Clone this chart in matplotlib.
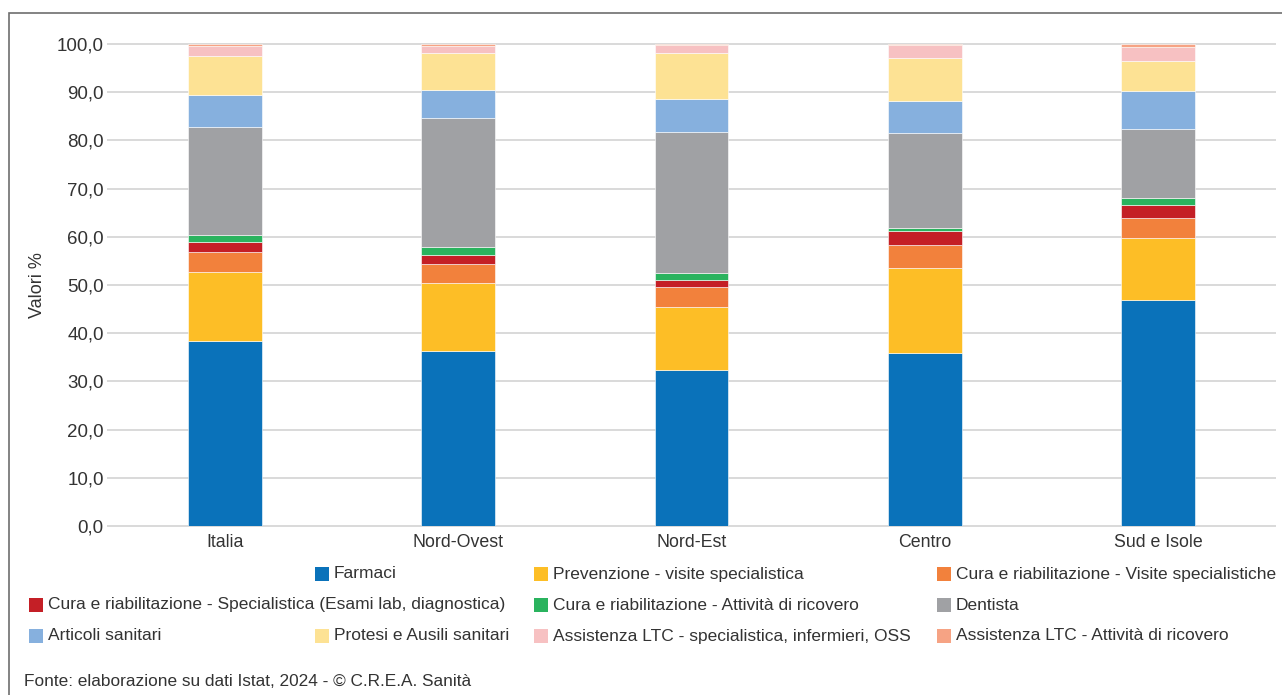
import matplotlib
matplotlib.use("Agg")
import matplotlib.pyplot as plt
from matplotlib.patches import Rectangle
from matplotlib.ticker import FuncFormatter, MultipleLocator

plt.rcParams['font.family'] = ['Liberation Sans', 'DejaVu Sans']

# data (valori %)
regioni = ["Italia", "Nord-Ovest", "Nord-Est", "Centro", "Sud e Isole"]
voci = [
    "Farmaci",
    "Prevenzione - visite specialistica",
    "Cura e riabilitazione - Visite specialistiche",
    "Cura e riabilitazione - Specialistica (Esami lab, diagnostica)",
    "Cura e riabilitazione - Attività di ricovero",
    "Dentista",
    "Articoli sanitari",
    "Protesi e Ausili sanitari",
    "Assistenza LTC - specialistica, infermieri, OSS",
    "Assistenza LTC - Attività di ricovero",
]
farmaci      = [38.4, 36.3, 32.4, 35.9, 46.9]
prevenzione  = [14.2, 14.1, 13.0, 17.6, 12.9]
cura_visite  = [4.2, 4.0, 4.2, 4.9, 4.2]
cura_esami   = [2.1, 1.8, 1.4, 2.7, 2.5]
cura_ricov   = [1.5, 1.7, 1.5, 0.8, 1.6]
dentista     = [22.4, 26.8, 29.3, 19.7, 14.3]
articoli     = [6.6, 5.7, 6.8, 6.6, 7.8]
protesi      = [8.1, 7.7, 9.6, 8.8, 6.3]
ltc_spec     = [2.1, 1.5, 1.6, 2.8, 2.9]
ltc_ricov    = [0.4, 0.4, 0.2, 0.2, 0.6]

serie = [farmaci, prevenzione, cura_visite, cura_esami, cura_ricov,
         dentista, articoli, protesi, ltc_spec, ltc_ricov]
colori = ["#0A72BA", "#FDBE26", "#F2813C", "#C41F26", "#2AB35E",
          "#A0A1A4", "#86B0DE", "#FDE294", "#F7C1C2", "#F6A384"]

testo = "#333333"
W, H = 1282, 695

fig = plt.figure(figsize=(W / 100, H / 100), dpi=100)
ax = fig.add_axes([108 / W, 1 - 526 / H, (1275 - 108) / W, 482 / H])

x = list(range(len(regioni)))
base = [0.0] * len(regioni)
for vals, col in zip(serie, colori):
    ax.bar(x, vals, bottom=base, width=0.317, color=col, edgecolor="white",
           linewidth=0.4, zorder=3)
    base = [b + v for b, v in zip(base, vals)]

ax.set_xlim(-0.5, len(regioni) - 0.5)
ax.set_ylim(0, 100)
ax.yaxis.set_major_locator(MultipleLocator(10))
ax.yaxis.set_major_formatter(FuncFormatter(lambda v, p: f"{v:.1f}".replace(".", ",")))
ax.set_xticks(x)
ax.set_xticklabels(regioni)
ax.tick_params(axis="both", length=0, labelsize=13.5, colors=testo)
ax.tick_params(axis="x", pad=6, labelsize=12.8)
ax.tick_params(axis="y", pad=3)
ax.grid(axis="y", color="#d9d9d9", linewidth=1.4, zorder=0)
for ln in ax.get_ygridlines():
    ln.set_clip_on(False)
for s in ax.spines.values():
    s.set_visible(False)

fig.text(38 / W, 1 - 285 / H, "Valori %", rotation=90, ha="center", va="center",
         fontsize=13, color=testo)

# legend laid out like the original (left of square, row centre in px)
leg_pos = [(315, 574), (534, 574), (937, 574),
           (29, 605), (534, 605), (937, 605),
           (29, 636), (315, 636), (534, 636), (937, 636)]
for nome, col, (px, py) in zip(voci, colori, leg_pos):
    fig.patches.append(Rectangle((px / W, 1 - (py + 7) / H), 14 / W, 14 / H,
                                 transform=fig.transFigure, facecolor=col,
                                 edgecolor="none"))
    fig.text((px + 19) / W, 1 - py / H, nome, ha="left", va="center",
             fontsize=12.5, color=testo)

fig.text(24 / W, 1 - 681 / H, "Fonte: elaborazione su dati Istat, 2024 - © C.R.E.A. Sanità",
         ha="left", va="center", fontsize=12.4, color=testo)

# outer frame
fig.patches.append(Rectangle((8.5 / W, -0.05), 1.1, 1.05 - 12.5 / H,
                             transform=fig.transFigure, facecolor="none",
                             edgecolor="#6e6e6e", linewidth=1.2, clip_on=False))

fig.savefig("out.png", dpi=100)
